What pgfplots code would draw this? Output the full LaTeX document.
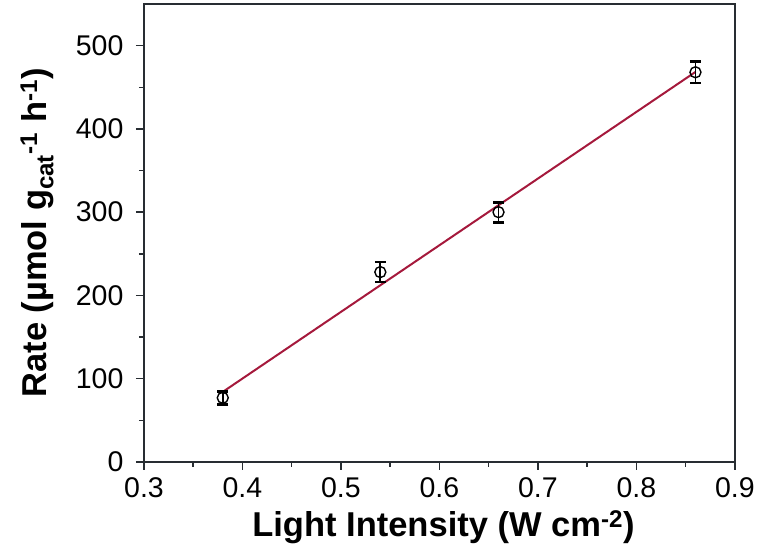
\documentclass[border=0pt]{standalone}
\usepackage{pgfplots}
\pgfplotsset{compat=1.18}
\usepackage{fontspec}
\setmainfont{Liberation Sans}
\definecolor{fitred}{RGB}{165,25,60}
\definecolor{axgray}{RGB}{40,45,50}
\begin{document}
\begin{tikzpicture}
\begin{axis}[
  width=591pt, height=458pt, scale only axis,
  xmin=0.3, xmax=0.9, ymin=0, ymax=550,
  xtick={0.3,0.4,...,0.9},
  ytick={0,100,...,500},
  minor x tick num=1, minor y tick num=1,
  xticklabel style={/pgf/number format/fixed,/pgf/number format/precision=1,/pgf/number format/fixed zerofill, yshift=-4pt},
  yticklabel style={xshift=-9pt},
  /pgf/number format/assume math mode=true,
  tick label style={font=\fontsize{28.5}{32}\selectfont},
  tick align=outside,
  xtick pos=bottom, ytick pos=left,
  major tick length=8pt, minor tick length=5pt,
  every tick/.style={axgray, line width=1.5pt},
  axis line style={axgray, line width=2pt},
  xlabel={\fontsize{34.5}{38}\selectfont\bfseries Light Intensity (W cm\textsuperscript{-2})},
  ylabel={\fontsize{34.5}{38}\selectfont\bfseries Rate (\textmu mol g\textsubscript{cat}\textsuperscript{-1} h\textsuperscript{-1})},
  every axis x label/.style={at={(axis description cs:0.5,0)}, anchor=base, yshift=-75pt, xshift=4pt},
  every axis y label/.style={at={(axis description cs:-0.181,0.5)}, anchor=center, rotate=90},
]
\addplot[fitred, line width=2pt] coordinates {(0.38,84.1) (0.86,468.4)};
\addplot[black, line width=1.4pt, only marks, mark=o, mark size=5.5pt,
  error bars/.cd, y dir=both, y explicit, error bar style={line width=1.8pt}, error mark options={line width=2.8pt, mark size=5.5pt, rotate=90}]
  coordinates {
  (0.38,77) +- (0,8)
  (0.54,228) +- (0,12)
  (0.66,300) +- (0,12)
  (0.86,468) +- (0,13)
};
\end{axis}
\path ([xshift=-144pt,yshift=-93pt]current axis.south west) rectangle ([xshift=23pt,yshift=4pt]current axis.north east);
\end{tikzpicture}
\end{document}
